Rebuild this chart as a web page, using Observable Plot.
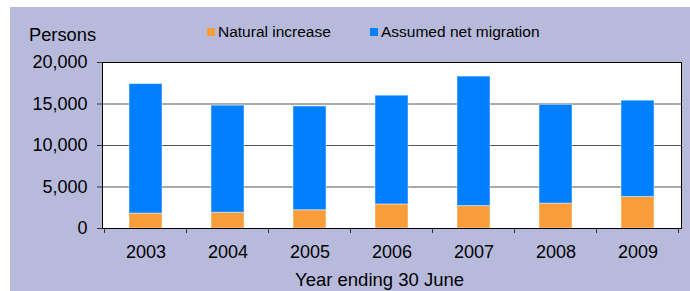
<!DOCTYPE html>
<html>
<head>
<meta charset="utf-8">
<script src="https://cdn.jsdelivr.net/npm/d3@7"></script>
<script src="https://cdn.jsdelivr.net/npm/@observablehq/plot@0.6"></script>
<style>
  html, body { margin: 0; padding: 0; background: #ffffff; }
  #wrap { position: relative; width: 690px; height: 291px; overflow: hidden; background: #ffffff; font-family: "Liberation Sans", Arial, sans-serif; }
  #panel { position: absolute; left: 10px; top: 7px; right: 0; bottom: 0; background: #b8badc; }
  #title { position: absolute; left: 3px; top: -22px; font-size: 20px; line-height: 20px; font-style: italic; color: #000; white-space: nowrap; }
  #persons { position: absolute; left: 29px; top: 26px; font-size: 18.3px; line-height: 18px; color: #000; }
  .leg { position: absolute; top: 23.5px; font-size: 15.5px; line-height: 15.5px; color: #000; white-space: nowrap; }
  .sw { display: inline-block; width: 8px; height: 8px; margin-right: 3px; vertical-align: 1px; }
  #xtitle { position: absolute; left: 295px; top: 271px; font-size: 18.5px; line-height: 18.5px; color: #000; white-space: nowrap; }
  #chart { position: absolute; left: 0; top: 0; }
</style>
</head>
<body>
<div id="wrap">
  <div id="panel"></div>
  <div id="title">Figure 1: Components of yearly population change</div>
  <div id="persons">Persons</div>
  <div id="legend"></div>
  <div id="chart"></div>
  <div id="xtitle">Year ending 30 June</div>
</div>
<script>
const years = ["2003", "2004", "2005", "2006", "2007", "2008", "2009"];
const seriesNames = ["Natural increase", "Assumed net migration"];
const seriesColors = ["#f99d3a", "#007fff"];
const naturalIncrease = [1800, 1900, 2200, 2900, 2700, 3000, 3800];
const netMigration = [15600, 12900, 12500, 13100, 15600, 11900, 11600];
const yTicks = [0, 5000, 10000, 15000, 20000];
const gridTicks = [5000, 10000, 15000];

const rows = [];
years.forEach((y, i) => {
  rows.push({year: y, series: seriesNames[0], value: naturalIncrease[i]});
  rows.push({year: y, series: seriesNames[1], value: netMigration[i]});
});

// legend
const legend = document.getElementById("legend");
const legLeft = [207, 370];
seriesNames.forEach((s, i) => {
  const d = document.createElement("div");
  d.className = "leg";
  d.style.left = legLeft[i] + "px";
  d.innerHTML = `<span class="sw" style="background:${seriesColors[i]}"></span>${s}`;
  legend.appendChild(d);
});

// ticks at band boundaries on the x axis
function boundaryTicks(index, scales, values, dimensions) {
  const x = scales.x;
  const step = x(years[1]) - x(years[0]);
  const bw = typeof x.bandwidth === "function" ? x.bandwidth() : step * 0.4;
  const yBase = dimensions.height - dimensions.marginBottom;
  const g = d3.create("svg:g").attr("stroke", "#333").attr("stroke-width", 1);
  const xs = years.map(y => x(y) + bw / 2 - step / 2);
  xs.push(x(years[years.length - 1]) + bw / 2 + step / 2);
  xs.forEach(px => {
    g.append("line").attr("x1", px).attr("x2", px).attr("y1", yBase).attr("y2", yBase + 5);
  });
  return g.node();
}

const chart = Plot.plot({
  width: 690,
  height: 291,
  marginLeft: 102,
  marginRight: 9,
  marginTop: 62,
  marginBottom: 63,
  style: {background: "transparent", fontFamily: "'Liberation Sans', Arial, sans-serif", fontSize: "18px", color: "#000"},
  x: {domain: years, paddingInner: 0.6, paddingOuter: 0.3, label: null},
  y: {domain: [0, 20000], label: null},
  color: {domain: seriesNames, range: seriesColors},
  marks: [
    Plot.frame({fill: "white", stroke: null}),
    Plot.ruleY(gridTicks, {stroke: "#555", strokeWidth: 1}),
    Plot.barY(rows, {x: "year", y: "value", fill: "series", order: seriesNames, stroke: "white", strokeOpacity: 0.45, strokeWidth: 1}),
    Plot.frame({stroke: "#000", strokeWidth: 1}),
    Plot.axisY({ticks: yTicks, tickFormat: d3.format(","), tickSize: 5, tickPadding: 10, fontSize: 18, label: null, stroke: "#333"}),
    Plot.axisX({tickSize: 0, tickPadding: 17, fontSize: 18, label: null}),
    boundaryTicks
  ]
});
document.getElementById("chart").appendChild(chart);
</script>
</body>
</html>
